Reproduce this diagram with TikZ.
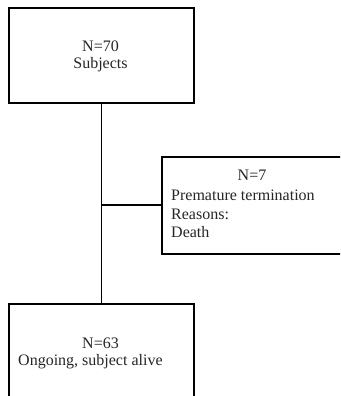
\documentclass[tikz,border=0pt]{standalone}
\usepackage{fontspec}
\setmainfont{Liberation Serif}
\begin{document}
\begin{tikzpicture}[x=1pt,y=1pt,
  box/.style={draw=black,line width=1.6pt,inner sep=0pt,anchor=north west},
  conn/.style={draw=black,line width=1.6pt},
  txt/.style={font=\fontsize{16}{19}\selectfont,inner sep=0pt,text=black!85}]
\useasboundingbox (0,0) rectangle (340,396);
\clip (0,0) rectangle (340,396);
\fill[white] (0,0) rectangle (340,396);
% boxes
\node[box,minimum width=185pt,minimum height=95pt] (top) at (8,389) {};
\node[box,minimum width=190pt,minimum height=97pt] (side) at (161,240) {};
\node[box,minimum width=185pt,minimum height=110pt] (bot) at (8,93) {};
% texts
\node[txt] (t1) at (100.5,350) {N=70};
\node[txt] (t2) at (100.5,331) {Subjects};
\node[txt] (s1) at (252,221) {N=7};
\node[txt,anchor=west] (s2) at (171,201) {Premature termination};
\node[txt,anchor=west] (s3) at (171,182) {Reasons:};
\node[txt,anchor=west] (s4) at (171,164) {Death};
\node[txt] (b1) at (100.5,53) {N=63};
\node[txt,anchor=west] (b2) at (18,34) {Ongoing, subject alive};
% connectors
\draw[conn] (top.south) -- (bot.north);
\coordinate (j) at (top.south |- side.west);
\draw[conn] (j) -- (side.west);
\end{tikzpicture}
\end{document}
